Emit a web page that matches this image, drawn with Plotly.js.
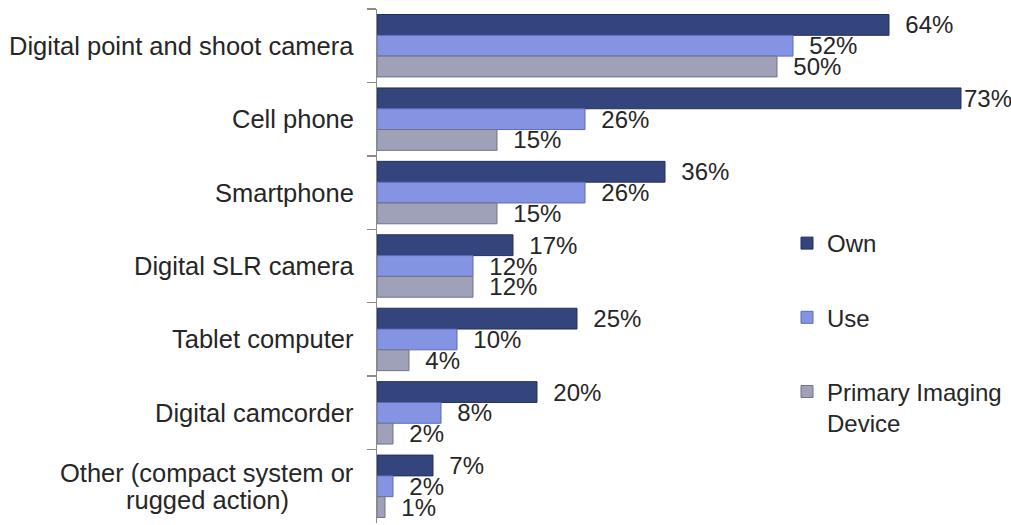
<!DOCTYPE html>
<html>
<head>
<meta charset="utf-8">
<script src="https://cdn.plot.ly/plotly-3.0.1.min.js"></script>
<style>
  html, body { margin: 0; padding: 0; background: #ffffff; }
  #chart { width: 1011px; height: 525px; }
</style>
</head>
<body>
<div id="chart"></div>
<script>
// ---- data ----
const categories = [
  "Digital point and shoot camera",
  "Cell phone",
  "Smartphone",
  "Digital SLR camera",
  "Tablet computer",
  "Digital camcorder",
  "Other (compact system or<br>rugged action)"
];
const seriesNames = ["Own", "Use", "Primary Imaging<br>Device"];
const ownValues     = [64, 73, 36, 17, 25, 20, 7];
const useValues     = [52, 26, 26, 12, 10, 8, 2];
const primaryValues = [50, 15, 15, 12, 4, 2, 1];

// ---- style ----
const FONT = '"Liberation Sans", Arial, Helvetica, sans-serif';
const TXT = '#262626';
const fills = ['#34457e', '#8494e2', '#9ea1b8'];
const lines = ['#24305e', '#5c6ab8', '#70738a'];
const LABEL_SIZE = 25.5;
const VALUE_SIZE = 24;

function labelText(vals) {
  return vals.map(v => (v >= 70 ? '' : '\u00a0\u00a0') + v + '%');
}

const seriesValues = [ownValues, useValues, primaryValues];
const traces = seriesValues.map((vals, i) => ({
  type: 'bar',
  orientation: 'h',
  name: seriesNames[i],
  legendgroup: 'g' + i,
  x: vals,
  y: categories,
  text: labelText(vals),
  textposition: 'outside',
  constraintext: 'none',
  cliponaxis: false,
  textfont: { family: FONT, size: VALUE_SIZE, color: TXT },
  marker: { color: fills[i], line: { color: lines[i], width: 1 } },
  hoverinfo: 'none'
}));

// category labels as annotations (centered multi-line like the original)
const ctx = document.createElement('canvas').getContext('2d');
ctx.font = LABEL_SIZE + 'px ' + FONT;
const LABEL_RIGHT = -0.035; // paper coords, right edge of labels
const annotations = [];
categories.forEach(cat => {
  const parts = cat.split('<br>');
  if (parts.length === 1) {
    annotations.push({
      xref: 'paper', yref: 'y', x: LABEL_RIGHT, y: cat,
      xanchor: 'right', yanchor: 'middle', showarrow: false,
      text: cat, font: { family: FONT, size: LABEL_SIZE, color: TXT }
    });
  } else {
    const w0 = ctx.measureText(parts[0]).width;
    const n = parts.length;
    parts.forEach((p, j) => {
      annotations.push({
        xref: 'paper', yref: 'y', x: LABEL_RIGHT, y: cat,
        xanchor: 'center', yanchor: 'middle', showarrow: false,
        xshift: -w0 / 2 - 2,
        yshift: ((n - 1) / 2 - j) * 26.5,
        text: p, font: { family: FONT, size: LABEL_SIZE, color: TXT }
      });
    });
  }
});

const layout = {
  width: 1011,
  height: 525,
  margin: { l: 377, r: 34, t: 9, b: 2, pad: 0, autoexpand: false },
  paper_bgcolor: '#ffffff',
  plot_bgcolor: '#ffffff',
  barmode: 'group',
  bargap: 0.15,
  bargroupgap: 0,
  showlegend: true,
  font: { family: FONT, color: TXT },
  xaxis: {
    range: [0, 75],
    visible: false,
    showgrid: false,
    zeroline: false
  },
  yaxis: {
    type: 'category',
    range: [6.5, -0.5],
    showline: true,
    linecolor: '#8c8c8c',
    linewidth: 1.5,
    ticks: 'outside',
    tickson: 'boundaries',
    ticklen: 9,
    tickcolor: '#8c8c8c',
    tickwidth: 1.5,
    showticklabels: false,
    showgrid: false,
    zeroline: false
  },
  legend: {
    xref: 'paper', yref: 'paper',
    x: (787 - 377) / 600, y: 1 - (221 - 9) / 514,
    xanchor: 'left', yanchor: 'top',
    traceorder: 'grouped',
    tracegroupgap: 40,
    valign: 'top',
    bgcolor: 'rgba(0,0,0,0)',
    font: { family: FONT, size: 24, color: TXT }
  },
  annotations: annotations
};

Plotly.newPlot('chart', traces, layout, { staticPlot: true, displayModeBar: false });
</script>
</body>
</html>
